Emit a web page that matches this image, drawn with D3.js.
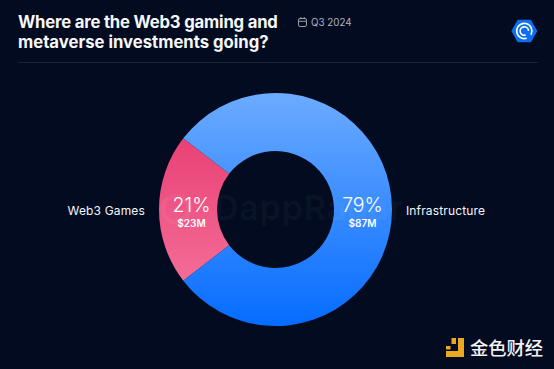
<!DOCTYPE html>
<html><head><meta charset="utf-8">
<script src="https://cdn.jsdelivr.net/npm/d3@7/dist/d3.min.js"></script>
<style>html,body{margin:0;padding:0;background:#020b20}svg{display:block}</style></head>
<body><svg id="c" width="554" height="369"></svg>
<script>
const categories = ["Web3 Games", "Infrastructure"];
const values = [23, 87];
const percentLabels = ["21%", "79%"];
const amountLabels = ["$23M", "$87M"];
const titleLines = ["Where are the Web3 gaming and", "metaverse investments going?"];
const periodLabel = "Q3 2024";
const watermark = "DappRadar";
const brandLabel = "金色财经";

const svg = d3.select("#c");
const font = "Inter, 'Noto Sans', sans-serif";
const defs = svg.append("defs");
const cx = 275.5, cy = 209.5, R = 116.5, r = 58.5;
function grad(id, a, b){
  const g = defs.append("linearGradient").attr("id", id)
    .attr("gradientUnits","userSpaceOnUse").attr("x1",0).attr("x2",0).attr("y1",-R).attr("y2",R);
  g.append("stop").attr("offset",0).attr("stop-color",a);
  g.append("stop").attr("offset",1).attr("stop-color",b);
}
grad("gBlue","#6cabff","#056cff");
grad("gPink","#e5336a","#f87aa2");

svg.append("rect").attr("width",554).attr("height",369).attr("fill","#020b20");

// Header
svg.append("g").selectAll("text").data(titleLines).join("text")
  .attr("x",18).attr("y",(d,i)=>27.5+i*20)
  .attr("fill","#f6f7f9").attr("font-family",font).attr("font-weight",700).attr("font-size",16.7)
  .attr("letter-spacing",(d,i)=>i ? 0 : -0.2).text(d=>d);
svg.append("line").attr("x1",18).attr("x2",538).attr("y1",62.5).attr("y2",62.5).attr("stroke","#1a2238");

// Calendar icon
const cal = svg.append("g").attr("fill","none").attr("stroke","#a4abb9").attr("stroke-width",0.9);
cal.append("rect").attr("x",298.5).attr("y",18.5).attr("width",8).attr("height",8).attr("rx",1.5);
cal.append("path").attr("d","M298.5 21.3h8M300.8 17v2.2M304.2 17v2.2");
svg.append("text").attr("x",311).attr("y",26).attr("fill","#aeb4c1").attr("font-family",font).attr("font-size",9.8).text(periodLabel);

// Logo
const logo = svg.append("g").attr("transform","translate(524.3,31)");
const hex = d3.range(6).map(i=>{const a=i*Math.PI/3;return [12.2*Math.cos(a),12.2*Math.sin(a)];});
logo.append("path").attr("d",d3.line().curve(d3.curveLinearClosed)(hex)).attr("fill","#0d6ff0").attr("stroke","#0d6ff0").attr("stroke-width",1.5).attr("stroke-linejoin","round");
const logoArc = d3.arc().cornerRadius(0.6);
[[7.6,-200,120],[4.2,-200,90]].forEach(([rad,s,e])=>{
  logo.append("path").attr("d",logoArc({innerRadius:rad-0.8,outerRadius:rad+0.8,startAngle:s*Math.PI/180,endAngle:e*Math.PI/180})).attr("fill","#fff");
});

// Donut
const wedge = values[0]/d3.sum(values)*2*Math.PI;
const pie = d3.pie().sort(null).value(d=>d).startAngle(-Math.PI/2-wedge/2).endAngle(1.5*Math.PI-wedge/2);
const arc = d3.arc().innerRadius(r).outerRadius(R);
const g = svg.append("g").attr("transform",`translate(${cx},${cy})`);
const fills = ["url(#gPink)","url(#gBlue)"];
g.selectAll("path").data(pie(values)).join("path").attr("d",arc).attr("fill",(d,i)=>fills[i]);

// Watermark
svg.append("text").attr("x",214).attr("y",220).attr("fill","#ffffff").attr("fill-opacity",0.045)
  .attr("font-family",font).attr("font-weight",600).attr("font-size",34).attr("letter-spacing",0.8).text(watermark);
svg.append("circle").attr("cx",176).attr("cy",209).attr("r",13).attr("fill","none").attr("stroke","#fff").attr("stroke-opacity",0.05).attr("stroke-width",5);

// Labels
const midX = [191.5, 362.5];
const labelX = [145, 406];
const anchors = ["end","start"];
svg.append("g").selectAll("text").data(categories).join("text")
  .attr("x",(d,i)=>labelX[i]).attr("y",214.5).attr("text-anchor",(d,i)=>anchors[i])
  .attr("fill","#f4f6fa").attr("font-family",font).attr("font-size",12).attr("letter-spacing",0.15).text(d=>d);
svg.append("g").selectAll("text").data(percentLabels).join("text")
  .attr("x",(d,i)=>midX[i]).attr("y",211.5).attr("text-anchor","middle")
  .attr("fill","#fff").attr("font-family",font).attr("font-weight",300).attr("font-size",19.5).text(d=>d);
svg.append("g").selectAll("text").data(amountLabels).join("text")
  .attr("x",(d,i)=>midX[i]).attr("y",227).attr("text-anchor","middle")
  .attr("fill","#fff").attr("font-family",font).attr("font-weight",600).attr("font-size",10).text(d=>d);

// Brand mark
const brand = svg.append("g").attr("fill","#e9a81f");
brand.append("path").attr("d","M458 338h6v19h-18v-6h12z");
brand.append("rect").attr("x",451.5).attr("y",338).attr("width",4.5).attr("height",6);
brand.append("rect").attr("x",446).attr("y",346).attr("width",4.5).attr("height",3.5);
svg.append("text").attr("x",470).attr("y",355).attr("fill","#f2f2f2")
  .attr("font-family","'Noto Sans CJK SC'").attr("font-size",18.3).attr("font-weight",500).text(brandLabel);
</script></body></html>
